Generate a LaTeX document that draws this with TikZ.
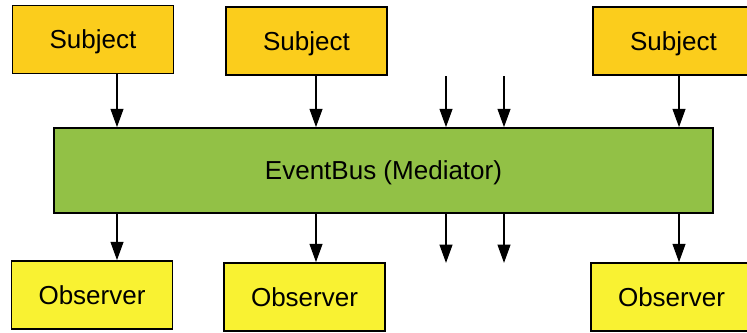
\documentclass[tikz,border=0pt]{standalone}
\usepackage{fontspec}
\setmainfont{Liberation Sans}
\usetikzlibrary{arrows.meta}

\definecolor{subj}{HTML}{FBCD1C}
\definecolor{obs}{HTML}{F9F232}
\definecolor{bus}{HTML}{92C146}

\begin{document}
\begin{tikzpicture}[x=0.025cm,y=-0.025cm,
    box/.style={draw,line width=1.1pt,inner sep=0pt,minimum height=1.7cm,
        text depth=0pt,font=\fontsize{18.5}{22}\selectfont},
    subject/.style={box,fill=subj,minimum width=4.02cm},
    observer/.style={box,fill=obs,minimum width=4.02cm},
    link/.style={-{Triangle[length=13pt,width=9pt]},line width=1.4pt}]
    \useasboundingbox (0,0) rectangle (747,332);
    \node[subject] (s1) at (93,39.5) {Subject};
    \node[subject] (s2) at (306.5,41) {Subject};
    \node[subject] (s3) at (673.5,41) {Subject};
    \node[box,fill=bus,minimum width=16.475cm,minimum height=2.125cm] (bus) at (383.5,170.5) {EventBus (Mediator)};
    \node[observer] (o1) at (92,295) {Observer};
    \node[observer] (o2) at (304.5,297) {Observer};
    \node[observer] (o3) at (671.5,297) {Observer};
    % arrow columns
    \coordinate (c1) at (117,0);
    \coordinate (c2) at (316,0);
    \coordinate (c3) at (446,0);
    \coordinate (c4) at (504,0);
    \coordinate (c5) at (679,0);
    \coordinate (top) at (0,76);
    \coordinate (low) at (0,263);
    \draw[link] (c1 |- s1.south) -- (c1 |- bus.north);
    \draw[link] (c2 |- s2.south) -- (c2 |- bus.north);
    \draw[link] (c3 |- top) -- (c3 |- bus.north);
    \draw[link] (c4 |- top) -- (c4 |- bus.north);
    \draw[link] (c5 |- s3.south) -- (c5 |- bus.north);
    \draw[link] (c1 |- bus.south) -- (c1 |- o1.north);
    \draw[link] (c2 |- bus.south) -- (c2 |- o2.north);
    \draw[link] (c3 |- bus.south) -- (c3 |- low);
    \draw[link] (c4 |- bus.south) -- (c4 |- low);
    \draw[link] (c5 |- bus.south) -- (c5 |- o3.north);
\end{tikzpicture}
\end{document}
